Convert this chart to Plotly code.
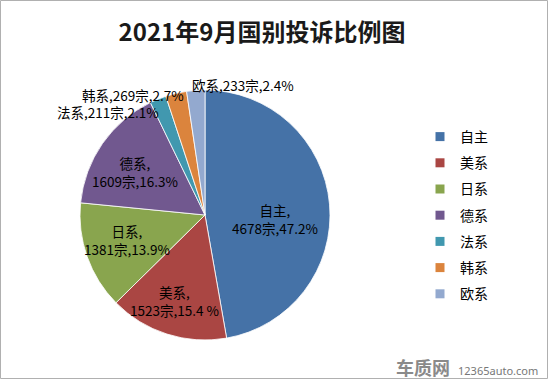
import math
import plotly.graph_objects as go

categories = ["自主", "美系", "日系", "德系", "法系", "韩系", "欧系"]
counts = [4678, 1523, 1381, 1609, 211, 269, 233]
percent_labels = ["47.2%", "15.4 %", "13.9%", "16.3%", "2.1%", "2.7%", "2.4%"]
colors = ["#4572A7", "#AA4643", "#89A54E", "#71588F", "#4198AF", "#DB843D", "#93A9CF"]

# label placement style (not data): outside flag, anchor and pixel nudges
outside = [False, False, False, False, True, True, True]
label_anchor = ["center", "center", "center", "center", "right", "right", "left"]
label_shift = [(0, -10), (-5, -5), (2, 3), (0, -6), (6, -20), (12, -9), (-5, -3)]

W, H = 550, 380
CX, CY, R = 205, 215, 125  # pie geometry in pixels
FONT = "Noto Sans CJK SC, Microsoft YaHei, sans-serif"

fig = go.Figure()
fig.add_trace(go.Pie(
    labels=categories,
    values=counts,
    textinfo="none",
    marker=dict(colors=colors, line=dict(color="#ffffff", width=0.8)),
    sort=False,
    direction="clockwise",
    rotation=0,
    showlegend=False,
    hoverinfo="label+value+percent",
    domain=dict(x=[(CX - R) / W, (CX + R) / W], y=[1 - (CY + R) / H, 1 - (CY - R) / H]),
))

# legend entries (one per category, spaced like the reference)
for c, col in zip(categories, colors):
    fig.add_trace(go.Scatter(
        x=[None], y=[None], mode="markers", name=c,
        marker=dict(symbol="square", size=9, color=col),
        legendgroup=c, showlegend=True,
    ))

# data labels positioned from each slice's mid-angle
annotations = []
total = sum(counts)
cum = 0
for c, n, p, o, anc, (sx, sy) in zip(categories, counts, percent_labels, outside, label_anchor, label_shift):
    frac = n / total
    mid = (cum + frac / 2) * 2 * math.pi
    cum += frac
    if o:
        r = R + 8
        txt = f"{c},{n}宗,{p}"
    else:
        r = R * (0.56 if frac > 0.3 else 0.68)
        txt = f"{c},<br>{n}宗,{p}"
    px = CX + r * math.sin(mid)
    py = CY - r * math.cos(mid)
    annotations.append(dict(
        text=txt, xref="paper", yref="paper", x=px / W, y=1 - py / H,
        xanchor=anc, yanchor="middle", align="center", showarrow=False,
        xshift=sx, yshift=sy,
        font=dict(family=FONT, size=13.5, color="#000000"),
    ))

annotations += [
    dict(text="<b>车质网</b>", xref="paper", yref="paper",
         x=452 / W, y=1 - 367 / H, xanchor="right", yanchor="middle",
         showarrow=False, font=dict(family=FONT, size=18, color="#8a8a8a")),
    dict(text="12365auto.com", xref="paper", yref="paper",
         x=456 / W, y=1 - 370 / H, xanchor="left", yanchor="middle",
         showarrow=False, font=dict(family="Noto Sans, sans-serif", size=11, color="#777777")),
]

fig.update_layout(
    width=W, height=H,
    margin=dict(l=0, r=0, t=0, b=0),
    paper_bgcolor="#ffffff", plot_bgcolor="#ffffff",
    title=dict(text="<b>2021年9月国别投诉比例图</b>", x=262 / W, xanchor="center",
               y=1 - 33 / H, yanchor="middle",
               font=dict(family=FONT, size=24, color="#1a1a1a")),
    xaxis=dict(visible=False), yaxis=dict(visible=False),
    legend=dict(x=420 / W, y=1 - 121 / H, xanchor="left", yanchor="top",
                font=dict(family=FONT, size=14, color="#000000"),
                tracegroupgap=5, itemclick=False, itemdoubleclick=False,
                bgcolor="rgba(0,0,0,0)"),
    shapes=[dict(type="rect", xref="paper", yref="paper", x0=0.5 / W, x1=1 - 2.5 / W,
                 y0=1.5 / H, y1=1 - 0.5 / H, line=dict(color="#b0b0b0", width=1))],
    annotations=annotations,
)

fig.write_html("out.html", config={"displayModeBar": False},
               post_script="document.body.style.margin='0';document.body.style.overflow='hidden';")
